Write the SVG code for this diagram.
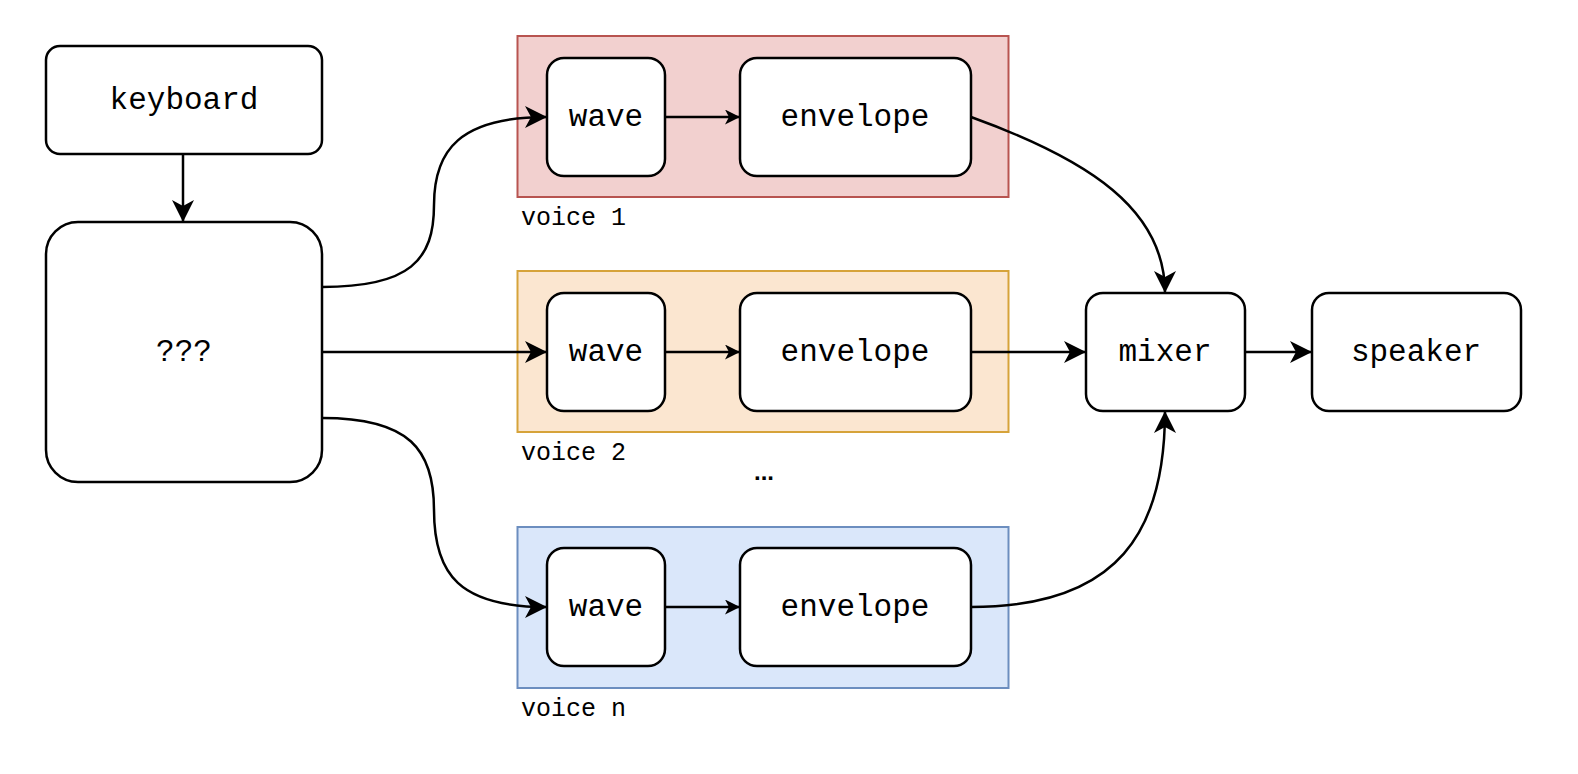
<svg xmlns="http://www.w3.org/2000/svg" width="1578" height="774" viewBox="0 0 1578 774">
<defs>
<style>
.node{fill:#ffffff;stroke:#000000;stroke-width:2.5}
.t{font-family:"Liberation Mono","Courier New",monospace;font-size:31px;fill:#000;text-anchor:middle;dominant-baseline:central}
.lbl{font-family:"Liberation Mono","Courier New",monospace;font-size:25px;fill:#000}
.e{fill:none;stroke:#000;stroke-width:2.5}
</style>
<marker id="a" markerUnits="userSpaceOnUse" markerWidth="24" markerHeight="24" refX="22" refY="11" orient="auto">
<path d="M22,11 L0,0 L6,11 L0,22 Z" fill="#000"/>
</marker>
<marker id="s" markerUnits="userSpaceOnUse" markerWidth="18" markerHeight="18" refX="15" refY="7.5" orient="auto">
<path d="M15,7.5 L0,0 L4,7.5 L0,15 Z" fill="#000"/>
</marker>
</defs>
<rect width="1578" height="774" fill="#ffffff"/>
<g id="voice1">
<rect x="517.5" y="36" width="491" height="161" fill="#f2d0cf" stroke="#b85450" stroke-width="2"/>
<text class="lbl" x="521" y="225">voice 1</text>
</g>
<g id="voice2">
<rect x="517.5" y="271" width="491" height="161" fill="#fbe6d0" stroke="#d6a33a" stroke-width="2"/>
<text class="lbl" x="521" y="460">voice 2</text>
</g>
<g id="voicen">
<rect x="517.5" y="527" width="491" height="161" fill="#dae7fa" stroke="#6c8ebf" stroke-width="2"/>
<text class="lbl" x="521" y="716">voice n</text>
</g>
<g id="dots"><text x="764" y="480" font-family="Liberation Sans,Arial,sans-serif" font-size="24" font-weight="bold" text-anchor="middle">...</text></g>
<g id="connectors">
<path class="e" d="M183,154 L183,222" marker-end="url(#a)"/>
<path class="e" d="M322,287 C410,287 434,260 434,205 C434,150 460,117 547,117" marker-end="url(#a)"/>
<path class="e" d="M322,352 L547,352" marker-end="url(#a)"/>
<path class="e" d="M322,418 C410,418 434,450 434,510 C434,575 460,607 547,607" marker-end="url(#a)"/>
<path class="e" d="M665,117 L740,117" marker-end="url(#s)"/>
<path class="e" d="M665,352 L740,352" marker-end="url(#s)"/>
<path class="e" d="M665,607 L740,607" marker-end="url(#s)"/>
<path class="e" d="M971,117 C1090,160 1165,210 1165,293" marker-end="url(#a)"/>
<path class="e" d="M971,352 L1086,352" marker-end="url(#a)"/>
<path class="e" d="M971,607 C1120,607 1165,530 1165,411" marker-end="url(#a)"/>
<path class="e" d="M1245,352 L1312,352" marker-end="url(#a)"/>
</g>
<g id="keyboard"><rect class="node" x="46" y="46" width="276" height="108" rx="14"/><text class="t" x="184" y="100">keyboard</text></g>
<g id="router"><rect class="node" x="46" y="222" width="276" height="260" rx="32"/><text class="t" x="184" y="352">???</text></g>
<g id="wave1"><rect class="node" x="547" y="58" width="118" height="118" rx="17"/><text class="t" x="606" y="117">wave</text></g>
<g id="env1"><rect class="node" x="740" y="58" width="231" height="118" rx="17"/><text class="t" x="855" y="117">envelope</text></g>
<g id="wave2"><rect class="node" x="547" y="293" width="118" height="118" rx="17"/><text class="t" x="606" y="352">wave</text></g>
<g id="env2"><rect class="node" x="740" y="293" width="231" height="118" rx="17"/><text class="t" x="855" y="352">envelope</text></g>
<g id="waven"><rect class="node" x="547" y="548" width="118" height="118" rx="17"/><text class="t" x="606" y="607">wave</text></g>
<g id="envn"><rect class="node" x="740" y="548" width="231" height="118" rx="17"/><text class="t" x="855" y="607">envelope</text></g>
<g id="mixer"><rect class="node" x="1086" y="293" width="159" height="118" rx="17"/><text class="t" x="1165" y="352">mixer</text></g>
<g id="speaker"><rect class="node" x="1312" y="293" width="209" height="118" rx="17"/><text class="t" x="1416" y="352">speaker</text></g>
</svg>
